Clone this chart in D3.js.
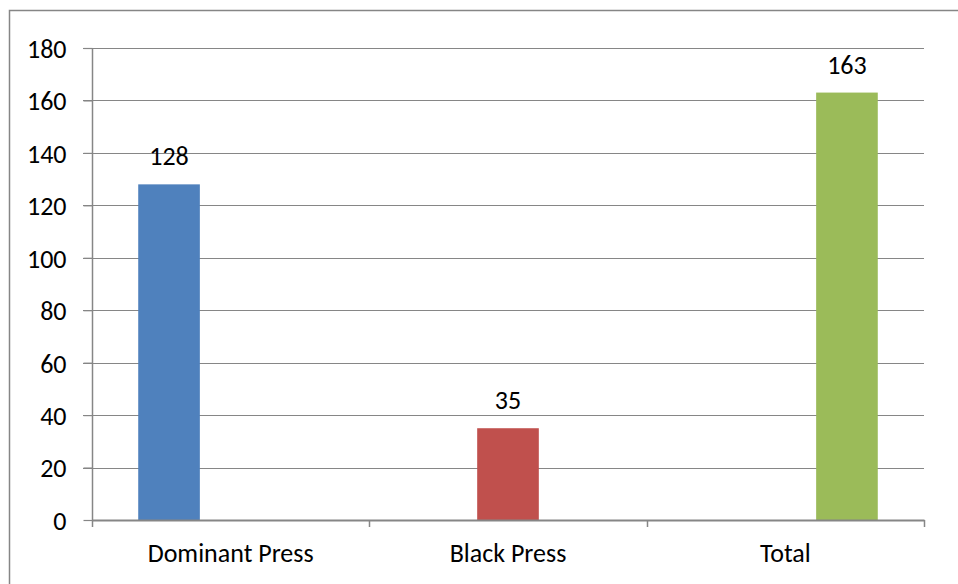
<!DOCTYPE html>
<html>
<head>
<meta charset="utf-8">
<script src="https://cdn.jsdelivr.net/npm/d3@7"></script>
<style>
  html, body { margin: 0; padding: 0; background: #fff; }
  svg { display: block; }
  text { font-family: Carlito, Calibri, Lato, "Open Sans", sans-serif; fill: #000; }
</style>
</head>
<body>
<svg id="chart" width="958" height="584"></svg>
<script>
// Categories along the x axis; each series holds one value, in its own category
const categories = ["Dominant Press", "Black Press", "Total"];
const seriesNames = ["Dominant Press", "Black Press", "Total"];
const values = [128, 35, 163];
const seriesColors = ["#4F81BD", "#C0504D", "#9BBB59"];
const yTicks = [0, 20, 40, 60, 80, 100, 120, 140, 160, 180];

const svg = d3.select("#chart");
const plot = { left: 92, right: 924, top: 48, bottom: 520 };
const gridColor = "#868686";
const numSize = 26;   // tick numbers and value labels
const catSize = 26;   // category names

// Outer chart frame
svg.append("rect")
  .attr("x", 9.5).attr("y", 10.5)
  .attr("width", 980).attr("height", 620)
  .attr("fill", "none").attr("stroke", gridColor).attr("stroke-width", 1.5);

const y = d3.scaleLinear().domain([0, 180]).range([plot.bottom, plot.top]);
const x = d3.scaleBand().domain(categories).range([plot.left, plot.right]).padding(0);
// clustered layout inside each category: 3 series, gap width 150%
const xs = d3.scaleBand().domain(seriesNames).range([0, x.bandwidth()])
  .paddingInner(0).paddingOuter(0.75);

// Horizontal gridlines (with left tick stubs)
svg.append("g").selectAll("line").data(yTicks.filter(d => d > 0)).join("line")
  .attr("x1", plot.left - 9).attr("x2", plot.right)
  .attr("y1", d => Math.round(y(d)) + 0.5).attr("y2", d => Math.round(y(d)) + 0.5)
  .attr("stroke", gridColor).attr("stroke-width", 1.2);

// Y axis labels
const yAxis = d3.axisLeft(y).tickValues(yTicks).tickSize(9).tickPadding(17);
const gy = svg.append("g").attr("transform", `translate(${plot.left + 0.5},0)`).call(yAxis);
gy.select(".domain").remove();
gy.selectAll(".tick line").attr("stroke", gridColor).attr("stroke-width", 1.2);
gy.selectAll(".tick text").attr("font-size", numSize).attr("dy", "0.36em")
  .style("font-family", "Carlito, Calibri, Lato, 'Open Sans', sans-serif").attr("fill", "#000");

// Bars
const bars = categories.map((c, i) => ({ cat: c, series: seriesNames[i], value: values[i], color: seriesColors[i] }));
svg.append("g").selectAll("rect").data(bars).join("rect")
  .attr("x", d => x(d.cat) + xs(d.series))
  .attr("width", xs.bandwidth())
  .attr("y", d => y(d.value))
  .attr("height", d => y(0) - y(d.value))
  .attr("fill", d => d.color);

// Value labels
svg.append("g").selectAll("text").data(bars).join("text")
  .attr("x", d => x(d.cat) + xs(d.series) + xs.bandwidth() / 2)
  .attr("y", d => y(d.value) - 19)
  .attr("text-anchor", "middle")
  .attr("font-size", numSize)
  .text(d => d.value);

// Y axis line
svg.append("line")
  .attr("x1", plot.left + 0.5).attr("x2", plot.left + 0.5)
  .attr("y1", plot.top).attr("y2", plot.bottom + 7)
  .attr("stroke", gridColor).attr("stroke-width", 1.5);

// X axis with category ticks at band boundaries
const xAxisG = svg.append("g");
xAxisG.append("line")
  .attr("x1", plot.left).attr("x2", plot.right + 0.5)
  .attr("y1", plot.bottom + 0.5).attr("y2", plot.bottom + 0.5)
  .attr("stroke", gridColor).attr("stroke-width", 1.8);
const boundaries = categories.map(c => x(c) + x.bandwidth());
xAxisG.selectAll("line.tk").data(boundaries).join("line").attr("class", "tk")
  .attr("x1", d => Math.round(d) + 0.5).attr("x2", d => Math.round(d) + 0.5)
  .attr("y1", plot.bottom).attr("y2", plot.bottom + 7)
  .attr("stroke", gridColor).attr("stroke-width", 1.5);
xAxisG.selectAll("text").data(categories).join("text")
  .attr("x", d => x(d) + x.bandwidth() / 2)
  .attr("y", 562)
  .attr("text-anchor", "middle")
  .attr("font-size", catSize)
  .text(d => d);
</script>
</body>
</html>
